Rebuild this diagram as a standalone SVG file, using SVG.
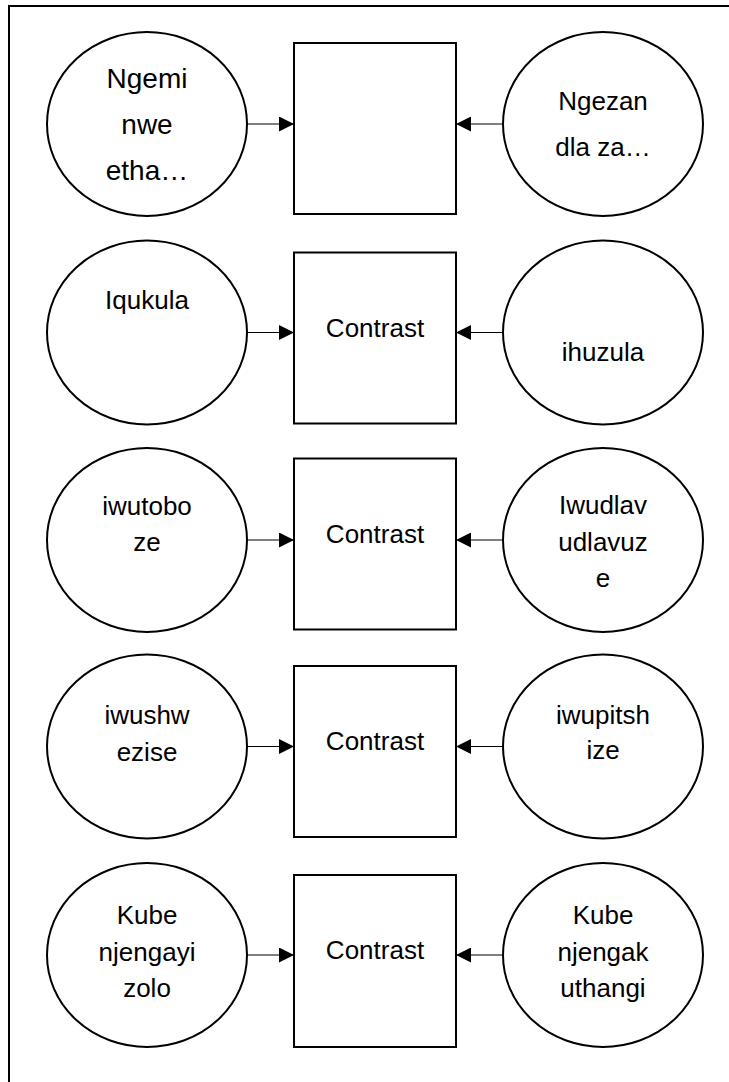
<svg xmlns="http://www.w3.org/2000/svg" width="729" height="1082" viewBox="0 0 729 1082">
<defs>
<style>
.bg{fill:#fff}
.frame{fill:none;stroke:#000;stroke-width:2}
.shape{fill:#fff;stroke:#000;stroke-width:2}
.edge{fill:none;stroke:#000;stroke-width:1.2}
.t{font-family:"Liberation Sans",Arial,sans-serif;font-size:26px;fill:#000;text-anchor:middle}
.t1{font-size:28px}
</style>
<marker id="ah" viewBox="0 0 15 15" refX="15" refY="7.5" markerWidth="15" markerHeight="15" markerUnits="userSpaceOnUse" orient="auto">
<path d="M0,0 L15,7.5 L0,15 Z" fill="#000"/>
</marker>
</defs>
<rect class="bg" x="0" y="0" width="729" height="1082"/>
<rect class="frame" x="9" y="6" width="760" height="1110"/>

<g id="connectors">
<line class="edge" x1="247" y1="124" x2="294" y2="124" marker-end="url(#ah)"/>
<line class="edge" x1="503" y1="124" x2="456" y2="124" marker-end="url(#ah)"/>
<line class="edge" x1="247" y1="332.5" x2="294" y2="332.5" marker-end="url(#ah)"/>
<line class="edge" x1="503" y1="332.5" x2="456" y2="332.5" marker-end="url(#ah)"/>
<line class="edge" x1="247" y1="540" x2="294" y2="540" marker-end="url(#ah)"/>
<line class="edge" x1="503" y1="540" x2="456" y2="540" marker-end="url(#ah)"/>
<line class="edge" x1="247" y1="746.5" x2="294" y2="746.5" marker-end="url(#ah)"/>
<line class="edge" x1="503" y1="746.5" x2="456" y2="746.5" marker-end="url(#ah)"/>
<line class="edge" x1="247" y1="955" x2="294" y2="955" marker-end="url(#ah)"/>
<line class="edge" x1="503" y1="955" x2="456" y2="955" marker-end="url(#ah)"/>
</g>

<g id="row1-left"><ellipse class="shape" cx="147" cy="124" rx="100" ry="92"/>
<text class="t t1" x="147"><tspan x="147" y="88">Ngemi</tspan><tspan x="147" y="134">nwe</tspan><tspan x="147" y="180">etha…</tspan></text></g>
<g id="row1-box"><rect class="shape" x="294" y="43" width="162" height="171"/></g>
<g id="row1-right"><ellipse class="shape" cx="603" cy="124" rx="100" ry="92"/>
<text class="t" x="603"><tspan x="603" y="110">Ngezan</tspan><tspan x="603" y="156">dla za…</tspan></text></g>

<g id="row2-left"><ellipse class="shape" cx="147" cy="332.5" rx="100" ry="92"/>
<text class="t" x="147" y="309">Iqukula</text></g>
<g id="row2-box"><rect class="shape" x="294" y="252.5" width="162" height="171"/>
<text class="t" x="375" y="336.5">Contrast</text></g>
<g id="row2-right"><ellipse class="shape" cx="603" cy="332.5" rx="100" ry="92"/>
<text class="t" x="603" y="361">ihuzula</text></g>

<g id="row3-left"><ellipse class="shape" cx="147" cy="540" rx="100" ry="92"/>
<text class="t"><tspan x="147" y="515">iwutobo</tspan><tspan x="147" y="551">ze</tspan></text></g>
<g id="row3-box"><rect class="shape" x="294" y="458.5" width="162" height="171"/>
<text class="t" x="375" y="542.5">Contrast</text></g>
<g id="row3-right"><ellipse class="shape" cx="603" cy="540" rx="100" ry="92"/>
<text class="t"><tspan x="603" y="514">Iwudlav</tspan><tspan x="603" y="551">udlavuz</tspan><tspan x="603" y="587">e</tspan></text></g>

<g id="row4-left"><ellipse class="shape" cx="147" cy="746.5" rx="100" ry="92"/>
<text class="t"><tspan x="147" y="724">iwushw</tspan><tspan x="147" y="761">ezise</tspan></text></g>
<g id="row4-box"><rect class="shape" x="294" y="666" width="162" height="171"/>
<text class="t" x="375" y="750">Contrast</text></g>
<g id="row4-right"><ellipse class="shape" cx="603" cy="746.5" rx="100" ry="92"/>
<text class="t"><tspan x="603" y="724">iwupitsh</tspan><tspan x="603" y="759">ize</tspan></text></g>

<g id="row5-left"><ellipse class="shape" cx="147" cy="955" rx="100" ry="92"/>
<text class="t"><tspan x="147" y="924">Kube</tspan><tspan x="147" y="961">njengayi</tspan><tspan x="147" y="997">zolo</tspan></text></g>
<g id="row5-box"><rect class="shape" x="294" y="875" width="162" height="172"/>
<text class="t" x="375" y="959">Contrast</text></g>
<g id="row5-right"><ellipse class="shape" cx="603" cy="955" rx="100" ry="92"/>
<text class="t"><tspan x="603" y="924">Kube</tspan><tspan x="603" y="961">njengak</tspan><tspan x="603" y="997">uthangi</tspan></text></g>
</svg>
